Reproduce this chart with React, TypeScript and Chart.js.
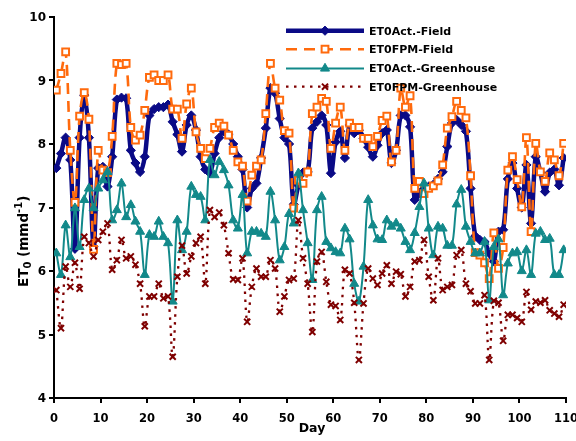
import { useEffect, useRef } from "react";
import { Chart, registerables } from "chart.js";

Chart.register(...registerables);

// Daily reference evapotranspiration (mm d-1) over the 110-day season.
const ET0_ACT_FIELD = [
  7.62, 7.85, 8.1, 7.75, 6.35, 8.1, 8.77, 8.1, 6.38, 7.62,
  7.64, 7.33, 7.8, 8.7, 8.73, 8.72, 7.9, 7.7, 7.56, 7.8,
  8.45, 8.55, 8.58, 8.58, 8.62, 8.35, 8.15, 7.88, 8.3, 8.45,
  8.22, 7.8, 7.6, 7.54, 7.85, 8.1, 8.2, 8.15, 8.0, 7.8,
  7.6, 7.0, 7.3, 7.38, 7.78, 8.25, 8.88, 8.8, 8.4, 8.1,
  8.0, 7.05, 7.35, 7.55, 7.56, 8.25, 8.35, 8.45, 8.3, 7.54,
  8.03, 8.2, 7.78, 8.3, 8.17, 8.22, 8.09, 7.95, 7.8, 7.98,
  8.17, 8.22, 7.7, 7.9, 8.45, 8.45, 8.27, 7.12, 7.22, 7.3,
  7.33, 7.36, 7.45, 7.56, 7.96, 8.33, 8.38, 8.3, 8.2, 7.3,
  6.55, 6.49, 6.46, 6.28, 6.15, 6.62, 6.65, 7.45, 7.7, 7.3,
  7.0, 7.67, 6.75, 7.8, 7.55, 7.25, 7.55, 7.6, 7.35, 7.78,
];

const ET0_FPM_FIELD = [
  8.85, 9.11, 9.45, 7.9, 7.08, 8.44, 8.81, 8.39, 6.34, 7.9,
  7.59, 7.55, 8.12, 9.27, 9.25, 9.27, 8.26, 8.06, 8.14, 8.53,
  9.05, 9.09, 9.0, 9.0, 9.09, 8.55, 8.55, 8.09, 8.63, 8.88,
  8.19, 7.93, 7.77, 7.93, 8.26, 8.33, 8.28, 8.14, 7.9, 7.72,
  7.65, 7.1, 7.51, 7.65, 7.75, 8.48, 9.27, 8.88, 8.69, 8.21,
  8.17, 6.99, 7.43, 7.38, 7.56, 8.48, 8.58, 8.72, 8.67, 7.93,
  8.33, 8.58, 7.9, 8.33, 8.26, 8.26, 8.09, 8.09, 7.96, 8.12,
  8.37, 8.44, 7.72, 7.9, 8.88, 8.58, 8.76, 7.3, 7.41, 7.22,
  7.3, 7.34, 7.42, 7.67, 8.25, 8.43, 8.67, 8.53, 8.41, 7.5,
  6.29, 6.25, 6.13, 5.88, 6.6, 6.04, 6.37, 7.59, 7.8, 7.44,
  7.01, 8.1, 6.62, 8.01, 7.56, 7.41, 7.86, 7.75, 7.5, 8.01,
];

const ET0_ACT_GREENHOUSE = [
  6.28, 5.94, 6.72, 6.22, 6.99, 6.38, 7.12, 7.3, 6.99, 7.3,
  7.43, 7.56, 6.8, 6.96, 7.38, 6.85, 7.04, 6.78, 6.62, 5.94,
  6.57, 6.54, 6.78, 6.54, 6.44, 5.52, 6.8, 6.33, 6.62, 7.33,
  7.2, 7.17, 6.8, 7.75, 7.51, 7.72, 7.59, 7.35, 6.8, 6.67,
  7.2, 6.28, 6.62, 6.62, 6.59, 6.54, 7.25, 6.8, 6.17, 6.38,
  6.9, 6.75, 7.54, 6.96, 6.44, 5.86, 6.96, 7.17, 6.46, 6.36,
  6.3, 6.28, 6.67, 6.5, 5.8, 5.52, 6.07, 7.12, 6.72, 6.5,
  6.49, 6.8, 6.7, 6.75, 6.67, 6.46, 6.33, 6.6, 7.01, 7.38,
  6.67, 6.25, 6.7, 6.67, 6.4, 6.4, 7.05, 7.28, 6.7, 6.46,
  6.28, 6.28, 6.46, 5.54, 6.38, 6.5, 5.62, 6.12, 6.28, 6.3,
  6.0, 6.33, 5.94, 6.59, 6.62, 6.49, 6.51, 5.94, 5.94, 6.33,
];

const ET0_FPM_GREENHOUSE = [
  5.7, 5.1, 6.07, 5.75, 6.13, 5.72, 6.54, 6.44, 6.23, 6.49,
  6.62, 6.75, 6.02, 6.17, 6.49, 6.2, 6.23, 6.1, 5.8, 5.13,
  5.6, 5.6, 5.8, 5.57, 5.6, 4.65, 5.91, 6.4, 5.96, 6.23,
  6.44, 6.54, 5.8, 6.96, 6.85, 6.92, 6.72, 6.28, 5.87, 5.86,
  6.2, 5.2, 5.75, 6.04, 5.91, 5.91, 6.17, 6.04, 5.36, 5.6,
  5.86, 5.88, 6.8, 6.2, 5.8, 5.04, 6.15, 6.3, 5.83, 5.47,
  5.45, 5.23, 6.02, 5.96, 5.5, 4.6, 5.49, 6.04, 5.88, 5.78,
  5.96, 6.09, 5.8, 5.99, 5.95, 5.6, 5.75, 6.15, 6.17, 6.49,
  5.91, 5.54, 6.2, 5.7, 5.75, 5.78, 6.25, 6.33, 5.8, 5.68,
  5.49, 5.49, 5.62, 4.6, 5.53, 5.5, 4.9, 5.31, 5.31, 5.26,
  5.2, 5.67, 5.39, 5.52, 5.5, 5.54, 5.38, 5.33, 5.28, 5.47,
];

const SERIES_NAMES = [
  "ET0Act.-Field",
  "ET0FPM-Field",
  "ET0Act.-Greenhouse",
  "ET0FPM-Greenhouse",
];

const X_TICKS = [0, 10, 20, 30, 40, 50, 60, 70, 80, 90, 100, 110];
const Y_TICKS = [4, 5, 6, 7, 8, 9, 10];

const FONT = '"DejaVu Sans", "Liberation Sans", Arial, sans-serif';

type MarkerStyle = "rectRot" | "rect" | "triangle" | "crossRot";

interface SeriesStyle {
  color: string;
  lineWidth: number;
  dash: number[];
  marker: MarkerStyle;
  radius: number;
  markerFill: string;
  markerBorder: number;
}

const STYLES: SeriesStyle[] = [
  { color: "#0a0a86", lineWidth: 4.5, dash: [], marker: "rectRot", radius: 4.6, markerFill: "#0a0a86", markerBorder: 1 },
  { color: "#ff6a0d", lineWidth: 2.6, dash: [11, 7], marker: "rect", radius: 4.8, markerFill: "#ffffff", markerBorder: 2 },
  { color: "#12898a", lineWidth: 2, dash: [], marker: "triangle", radius: 5.2, markerFill: "#12898a", markerBorder: 1 },
  { color: "#7f0000", lineWidth: 2.3, dash: [2.5, 5.5], marker: "crossRot", radius: 4.3, markerFill: "#7f0000", markerBorder: 2 },
];

const SERIES_VALUES = [ET0_ACT_FIELD, ET0_FPM_FIELD, ET0_ACT_GREENHOUSE, ET0_FPM_GREENHOUSE];

// each reading is plotted in the middle of its day
const toPoints = (values: number[]) => values.map((y, i) => ({ x: i + 0.5, y }));

function drawMarker(ctx: CanvasRenderingContext2D, s: SeriesStyle, x: number, y: number) {
  const r = s.radius;
  ctx.save();
  ctx.setLineDash([]);
  ctx.beginPath();
  if (s.marker === "rectRot") {
    ctx.moveTo(x, y - r);
    ctx.lineTo(x + r, y);
    ctx.lineTo(x, y + r);
    ctx.lineTo(x - r, y);
    ctx.closePath();
  } else if (s.marker === "rect") {
    const h = r * Math.SQRT1_2;
    ctx.rect(x - h, y - h, 2 * h, 2 * h);
  } else if (s.marker === "triangle") {
    ctx.moveTo(x, y - r);
    ctx.lineTo(x + r * Math.sin((2 * Math.PI) / 3), y - r * Math.cos((2 * Math.PI) / 3));
    ctx.lineTo(x + r * Math.sin((4 * Math.PI) / 3), y - r * Math.cos((4 * Math.PI) / 3));
    ctx.closePath();
  } else {
    const d = r * Math.SQRT1_2;
    ctx.moveTo(x - d, y - d);
    ctx.lineTo(x + d, y + d);
    ctx.moveTo(x - d, y + d);
    ctx.lineTo(x + d, y - d);
  }
  if (s.marker !== "crossRot") {
    ctx.fillStyle = s.markerFill;
    ctx.fill();
  }
  ctx.strokeStyle = s.color;
  ctx.lineWidth = s.markerBorder;
  ctx.stroke();
  ctx.restore();
}

const decorations = {
  id: "decorations",
  afterDraw(chart: Chart) {
    const { ctx } = chart;
    const xs = chart.scales.x;
    const ys = chart.scales.y;
    ctx.save();
    ctx.fillStyle = "#000";

    // tick labels
    ctx.font = `bold 12px ${FONT}`;
    ctx.textAlign = "right";
    ctx.textBaseline = "alphabetic";
    Y_TICKS.forEach((v) => ctx.fillText(String(v), 46, ys.getPixelForValue(v) + 4.4));
    ctx.font = `bold 11.5px ${FONT}`;
    ctx.textAlign = "center";
    X_TICKS.forEach((v) => ctx.fillText(String(v), xs.getPixelForValue(v), 422));

    // x-axis title
    ctx.font = `bold 12.5px ${FONT}`;
    ctx.fillText("Day", 312, 432);

    // y-axis title: ET0 (mmd-1) with subscript and superscript
    ctx.save();
    ctx.translate(28, 287);
    ctx.rotate(-Math.PI / 2);
    ctx.textAlign = "left";
    let cx = 0;
    const part = (text: string, size: number, shift: number) => {
      ctx.font = `bold ${size}px ${FONT}`;
      ctx.fillText(text, cx, shift);
      cx += ctx.measureText(text).width;
    };
    part("ET", 13.5, 0);
    part("0", 10, 3);
    part(" (mmd", 13.5, 0);
    part("-1", 10, -6);
    part(")", 13.5, 0);
    ctx.restore();

    // legend
    const rows = [30.7, 49.2, 68.5, 86.7];
    ctx.font = `bold 11px ${FONT}`;
    ctx.textAlign = "left";
    STYLES.forEach((s, i) => {
      const ly = rows[i];
      ctx.save();
      ctx.strokeStyle = s.color;
      ctx.lineWidth = s.lineWidth;
      ctx.setLineDash(s.dash);
      ctx.beginPath();
      ctx.moveTo(286, ly);
      ctx.lineTo(364, ly);
      ctx.stroke();
      ctx.restore();
      drawMarker(ctx, s, 325, ly);
      ctx.fillStyle = "#000";
      ctx.fillText(SERIES_NAMES[i], 369, ly + 3.9);
    });
    ctx.restore();
  },
};

export default function App() {
  const canvasRef = useRef<HTMLCanvasElement | null>(null);

  useEffect(() => {
    const canvas = canvasRef.current;
    if (!canvas) return;

    const datasets = SERIES_VALUES.map((values, i) => {
      const s = STYLES[i];
      return {
        label: SERIES_NAMES[i],
        data: toPoints(values),
        borderColor: s.color,
        backgroundColor: s.markerFill,
        borderWidth: s.lineWidth,
        borderDash: s.dash,
        tension: 0.35,
        pointStyle: s.marker,
        pointRadius: s.radius,
        pointBorderColor: s.color,
        pointBackgroundColor: s.markerFill,
        pointBorderWidth: s.markerBorder,
        // later series sit on top of earlier ones
        order: SERIES_VALUES.length - i,
      };
    });

    const chart = new Chart(canvas, {
      type: "line",
      data: { datasets },
      options: {
        animation: false,
        responsive: false,
        devicePixelRatio: 1,
        events: [],
        layout: { padding: { top: 17, right: 10, left: 0, bottom: 0 }, autoPadding: false },
        plugins: {
          legend: { display: false },
          tooltip: { enabled: false },
          title: { display: false },
        },
        scales: {
          x: {
            type: "linear",
            min: 0,
            max: 110,
            ticks: { stepSize: 10, color: "rgba(0,0,0,0)", autoSkip: false, maxRotation: 0, font: { size: 11 } },
            grid: { drawOnChartArea: false, drawTicks: true, tickLength: 5, color: "#000", lineWidth: 2 },
            border: { display: true, color: "#000", width: 2 },
            afterFit: (scale: any) => {
              scale.height = 43;
              scale.paddingLeft = 0;
              scale.paddingRight = 0;
            },
          },
          y: {
            min: 4,
            max: 10,
            ticks: { stepSize: 1, color: "rgba(0,0,0,0)", font: { size: 11 } },
            grid: { drawOnChartArea: false, drawTicks: true, tickLength: 5, color: "#000", lineWidth: 2 },
            border: { display: true, color: "#000", width: 2 },
            afterFit: (scale: any) => {
              scale.width = 54;
              scale.paddingTop = 0;
              scale.paddingBottom = 0;
            },
          },
        },
      },
      plugins: [decorations],
    });

    return () => chart.destroy();
  }, []);

  return (
    <div style={{ position: "absolute", left: 0, top: 0, width: 576, height: 441, background: "#fff" }}>
      <canvas ref={canvasRef} width={576} height={441} />
    </div>
  );
}
